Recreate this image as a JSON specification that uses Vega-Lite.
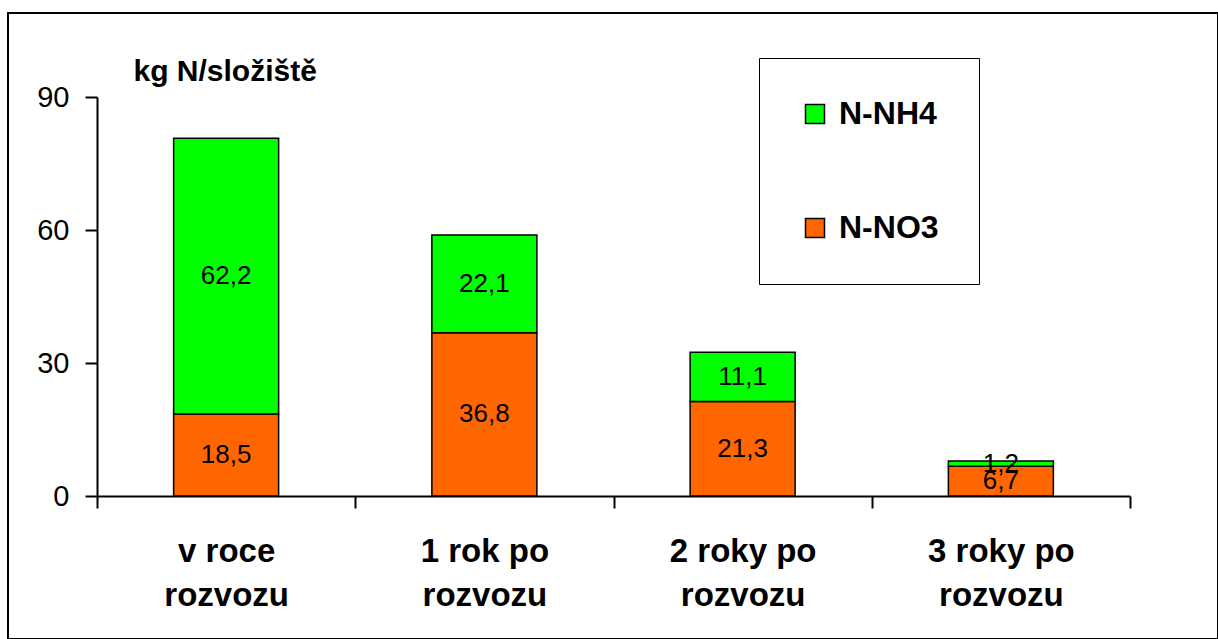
{
  "$schema": "https://vega.github.io/schema/vega-lite/v6.json",
  "autosize": {"type": "none"},
  "padding": {"left": 8, "top": 13, "right": 0, "bottom": 0},
  "width": 1210,
  "height": 626,
  "background": "white",
  "config": {
    "font": "Liberation Sans",
    "view": {"stroke": "black", "strokeWidth": 2},
    "locale": {"number": {"decimal": ",", "thousands": " ", "grouping": [3], "currency": ["", " Kč"]}}
  },
  "data": {
    "values": [
      {"obdobi": "v roce rozvozu", "forma": "N-NO3", "hodnota": 18.5},
      {"obdobi": "v roce rozvozu", "forma": "N-NH4", "hodnota": 62.2},
      {"obdobi": "1 rok po rozvozu", "forma": "N-NO3", "hodnota": 36.8},
      {"obdobi": "1 rok po rozvozu", "forma": "N-NH4", "hodnota": 22.1},
      {"obdobi": "2 roky po rozvozu", "forma": "N-NO3", "hodnota": 21.3},
      {"obdobi": "2 roky po rozvozu", "forma": "N-NH4", "hodnota": 11.1},
      {"obdobi": "3 roky po rozvozu", "forma": "N-NO3", "hodnota": 6.7},
      {"obdobi": "3 roky po rozvozu", "forma": "N-NH4", "hodnota": 1.2}
    ]
  },
  "encoding": {
    "x": {
      "field": "obdobi",
      "type": "nominal",
      "sort": ["v roce rozvozu", "1 rok po rozvozu", "2 roky po rozvozu", "3 roky po rozvozu"],
      "scale": {"range": [89, 1122], "paddingInner": 0, "paddingOuter": 0},
      "axis": {
        "orient": "bottom",
        "offset": -143,
        "title": null,
        "tickBand": "extent",
        "tickSize": 12,
        "tickWidth": 2,
        "tickColor": "black",
        "domainWidth": 2,
        "domainColor": "black",
        "labelAngle": 0,
        "labelFontSize": 33,
        "labelFontWeight": "bold",
        "labelColor": "black",
        "labelBaseline": "alphabetic",
        "labelPadding": 53,
        "labelLineHeight": 44,
        "labelExpr": "datum.label ? [replace(datum.label, ' rozvozu', ''), 'rozvozu'] : ''"
      }
    }
  },
  "layer": [
    {
      "mark": {"type": "bar", "stroke": "black", "strokeWidth": 1.5, "width": {"band": 0.4066}},
      "encoding": {
        "y": {
          "field": "hodnota",
          "type": "quantitative",
          "stack": "zero",
          "scale": {"domain": [0, 90], "range": [483, 84], "nice": false},
          "axis": {
            "values": [0, 30, 60, 90],
            "offset": -89,
            "grid": false,
            "tickSize": 12,
            "tickWidth": 2,
            "tickColor": "black",
            "domainWidth": 2,
            "domainColor": "black",
            "labelFontSize": 29,
            "labelColor": "black",
            "labelPadding": 16,
            "title": "kg N/složiště",
            "titleAngle": 0,
            "titleAlign": "left",
            "titleBaseline": "alphabetic",
            "titleX": 36,
            "titleY": 67,
            "titleFontSize": 30,
            "titleFontWeight": "bold",
            "titleColor": "black"
          }
        },
        "color": {
          "field": "forma",
          "type": "nominal",
          "scale": {"domain": ["N-NH4", "N-NO3"], "range": ["#00FF00", "#FF6600"]},
          "legend": {
            "orient": "none",
            "legendX": 751,
            "legendY": 45,
            "direction": "vertical",
            "title": null,
            "symbolType": "square",
            "symbolSize": 361,
            "symbolStrokeColor": "black",
            "symbolStrokeWidth": 1.5,
            "symbolOpacity": 1,
            "labelFontSize": 32,
            "labelFontWeight": "bold",
            "labelColor": "black",
            "labelOffset": 8,
            "padding": 40,
            "rowPadding": 82,
            "strokeColor": "black",
            "fillColor": "white"
          }
        },
        "order": {"field": "forma", "sort": "descending"}
      }
    },
    {
      "transform": [
        {"stack": "hodnota", "groupby": ["obdobi"], "sort": [{"field": "forma", "order": "descending"}], "as": ["v0", "v1"]},
        {"fold": ["v0", "v1"], "as": ["k", "pos"]},
        {"aggregate": [{"op": "mean", "field": "pos", "as": "mid"}], "groupby": ["obdobi", "forma", "hodnota"]}
      ],
      "mark": {"type": "text", "fontSize": 26, "color": "black", "baseline": "middle", "align": "center"},
      "encoding": {
        "y": {"field": "mid", "type": "quantitative"},
        "text": {"field": "hodnota", "type": "quantitative", "format": ".1f"}
      }
    }
  ]
}
